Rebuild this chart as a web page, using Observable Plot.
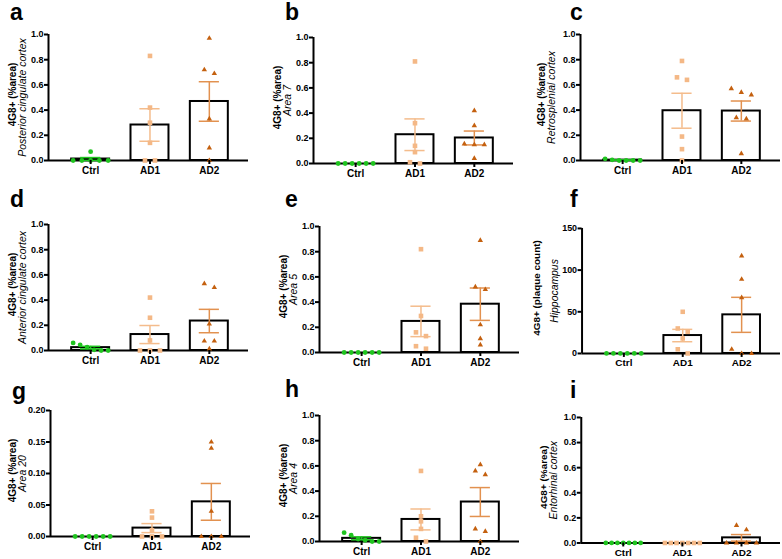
<!DOCTYPE html>
<html><head><meta charset="utf-8">
<script src="https://cdn.jsdelivr.net/npm/d3@7"></script>
<script src="https://cdn.jsdelivr.net/npm/@observablehq/plot@0.6"></script>
<style>
html,body{margin:0;padding:0;background:#fff;overflow:hidden;}
#root{position:relative;width:782px;height:559px;overflow:hidden;font-family:"Liberation Sans",Arial,sans-serif;}
.panel{position:absolute;}
.letter{position:absolute;font:bold 23px "Liberation Sans",Arial,sans-serif;line-height:1;color:#000;}
</style>
</head><body><div id="root"></div>
<script>
// ---------- data ----------
const groups = ["Ctrl", "AD1", "AD2"];
const letters = ["a", "b", "c", "d", "e", "f", "g", "h", "i"];
const measures = ["4G8+ (%area)", "4G8+ (%area)", "4G8+ (%area)", "4G8+ (%area)", "4G8+ (%area)",
  "4G8+ (plaque count)", "4G8+ (%area)", "4G8+ (%area)", "4G8+ (%area)"];
const regions = ["Posterior cingulate cortex", "Area 7", "Retrosplenial cortex", "Anterior cingulate cortex",
  "Area 5", "Hippocampus", "Area 20", "Area 4", "Entorhinal cortex"];
const yMaxes = [1, 1, 1, 1, 1, 150, 0.2, 1, 1];
const yTickSteps = [0.2, 0.2, 0.2, 0.2, 0.2, 50, 0.05, 0.2, 0.2];
const yTickDecimals = [1, 1, 1, 1, 1, 0, 2, 1, 1];

const ctrlValues = [
  [0.07, 0, 0, 0, 0, 0],
  [0, 0, 0, 0, 0, 0],
  [0.013, 0.005, 0, 0, 0, 0],
  [0.06, 0.045, 0.027, 0.005, 0, 0],
  [0, 0, 0, 0, 0, 0],
  [0, 0, 0, 0, 0, 0],
  [0, 0, 0, 0, 0, 0],
  [0.07, 0.05, 0.02, 0.01, 0, 0],
  [0, 0, 0, 0, 0, 0, 0]
];
const ad1Values = [
  [0.83, 0.42, 0.30, 0.14, 0, 0],
  [0.81, 0.32, 0.14, 0.09, 0.01, 0],
  [0.79, 0.66, 0.64, 0.19, 0.09, 0],
  [0.42, 0.26, 0.08, 0, 0, 0],
  [0.82, 0.29, 0.16, 0.13, 0.05, 0.03],
  [50, 30, 26, 18, 5, 0],
  [0.04, 0.03, 0.01, 0, 0, 0],
  [0.56, 0.20, 0.16, 0.10, 0.03, 0],
  [0, 0, 0, 0, 0, 0, 0]
];
const ad2Values = [
  [0.97, 0.72, 0.69, 0.33, 0.10, 0],
  [0.42, 0.30, 0.155, 0.15, 0.15, 0.04],
  [0.57, 0.54, 0.52, 0.34, 0.33, 0.055],
  [0.53, 0.50, 0.21, 0.075, 0.075, 0.013],
  [0.89, 0.52, 0.50, 0.22, 0.11, 0.06],
  [117, 89, 67, 5, 0, 0],
  [0.15, 0.14, 0.04, 0, 0, 0],
  [0.61, 0.56, 0.53, 0.10, 0.08, 0],
  [0.14, 0.105, 0, 0, 0, 0]
];

// ---------- styles & layout ----------
const groupFill = ["#1fc41f", "#f4b886", "#c4600f"];
const groupErr = ["#1fc41f", "#f4bc8c", "#e2914f"];
const groupSymbol = ["circle", "square", "triangle"];
const groupR = [2.4, 2.6, 2.0];
const axisLeft = [48, 313, 580, 48, 319, 582, 50, 319, 581];
const axisTop = [34, 37, 34, 224, 226, 228, 410, 415, 417];
const letterPos = [[10, 20], [285, 20], [570, 20], [10, 207], [285, 207], [570, 207], [12, 399], [285, 397], [570, 398]];
const boldDx = [-36, -36, -39, -36, -36, -46, -38, -36, -38];
const italDx = [-26, -26, -29, -26, -26, -28, -28, -26, -28];

const FONT = '"Liberation Sans", Arial, sans-serif';
const frameW = 200, frameH = 126;
const mL = 60, mR = 2, mT = 8, mB = 22;
const xDomain = [-0.71, 2.66];
const unitPx = frameW / (xDomain[1] - xDomain[0]);
const root = document.getElementById("root");

for (let p = 0; p < 9; p++) {
  const sets = [ctrlValues[p], ad1Values[p], ad2Values[p]];
  const yMax = yMaxes[p];
  const pxPerUnit = frameH / yMax;
  const stats = [];
  const pts = [];
  sets.forEach((vals, g) => {
    const n = vals.length;
    const mean = d3.mean(vals);
    const sd = n > 1 ? (d3.deviation(vals) || 0) : 0;
    const sem = sd / Math.sqrt(n);
    stats.push({g, mean, lo: mean - sem, hi: mean + sem, sem});
    // spread points with (near-)equal values horizontally
    const sorted = vals.map((v, i) => ({v, i})).sort((a, b) => b.v - a.v);
    const clusters = [];
    let cur = [];
    sorted.forEach(d => {
      if (cur.length && (cur[cur.length - 1].v - d.v) * pxPerUnit >= 4.5) { clusters.push(cur); cur = []; }
      cur.push(d);
    });
    if (cur.length) clusters.push(cur);
    clusters.forEach(c => {
      const m = c.length;
      const step = m > 1 ? Math.min(10, 35 / (m - 1)) : 0;
      c.forEach((d, k) => pts.push({g, v: d.v, x: g + (k - (m - 1) / 2) * step / unitPx}));
    });
  });

  const marks = [
    Plot.ruleY([0], {stroke: "#000", strokeWidth: 2}),
    Plot.ruleX([xDomain[0]], {stroke: "#000", strokeWidth: 2}),
    Plot.rectY(stats, {x1: d => d.g - 0.32, x2: d => d.g + 0.32, y1: 0, y2: "mean", fill: "white", stroke: "#000", strokeWidth: 2})
  ];
  stats.forEach(s => {
    if (s.sem <= 0) return;
    marks.push(
      Plot.ruleX([s], {x: "g", y1: "lo", y2: "hi", stroke: groupErr[s.g], strokeWidth: 1.5}),
      Plot.ruleY([s], {y: "hi", x1: d => d.g - 0.17, x2: d => d.g + 0.17, stroke: groupErr[s.g], strokeWidth: 1.5}),
      Plot.ruleY([s], {y: "lo", x1: d => d.g - 0.17, x2: d => d.g + 0.17, stroke: groupErr[s.g], strokeWidth: 1.5})
    );
  });
  [0, 1, 2].forEach(g => {
    marks.push(Plot.dot(pts.filter(d => d.g === g), {x: "x", y: "v", symbol: groupSymbol[g], r: groupR[g], fill: groupFill[g], stroke: "none"}));
  });
  const yTicks = d3.range(0, yMax + yTickSteps[p] / 2, yTickSteps[p]);
  marks.push(
    Plot.axisY({ticks: yTicks, tickFormat: d3.format("." + yTickDecimals[p] + "f"), tickSize: 4, tickPadding: 1, fontSize: 9, strokeWidth: 2, label: null}),
    Plot.axisX({ticks: [0, 1, 2], tickFormat: i => groups[i], tickSize: 4, tickPadding: 2, fontSize: 10, strokeWidth: 2, label: null}),
    Plot.text([measures[p]], {frameAnchor: "left", textAnchor: "middle", rotate: -90, dx: boldDx[p], dy: -3, fontSize: 10, fontWeight: "bold", fill: "#000"}),
    Plot.text([regions[p]], {frameAnchor: "left", textAnchor: "middle", rotate: -90, dx: italDx[p], fontSize: 10.5, fontStyle: "italic", fontWeight: "normal", fill: "#000"})
  );

  const svg = Plot.plot({
    width: mL + frameW + mR,
    height: mT + frameH + mB,
    marginLeft: mL, marginRight: mR, marginTop: mT, marginBottom: mB,
    x: {domain: xDomain, axis: null},
    y: {domain: [0, yMax], axis: null},
    style: {fontFamily: FONT, fontWeight: "bold", background: "transparent", overflow: "visible", color: "#000"},
    marks
  });
  const wrap = document.createElement("div");
  wrap.className = "panel";
  wrap.style.left = (axisLeft[p] - mL) + "px";
  wrap.style.top = (axisTop[p] - mT) + "px";
  wrap.appendChild(svg);
  root.appendChild(wrap);

  const lt = document.createElement("div");
  lt.className = "letter";
  lt.textContent = letters[p];
  lt.style.left = letterPos[p][0] + "px";
  lt.style.top = (letterPos[p][1] - 19.5) + "px";
  root.appendChild(lt);
}
</script>
</body></html>
